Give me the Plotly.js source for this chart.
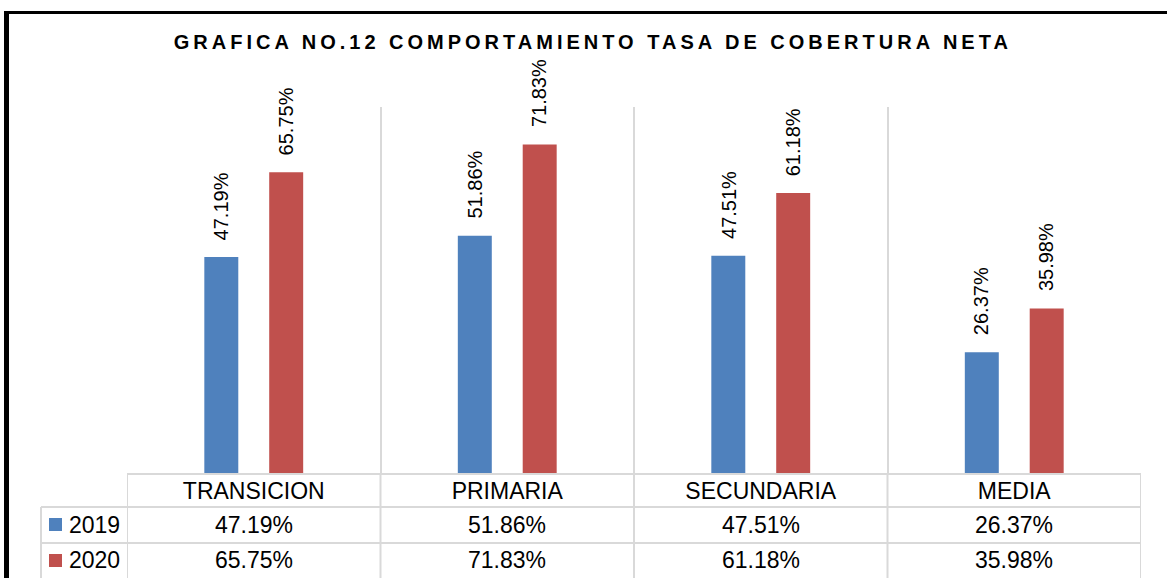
<!DOCTYPE html>
<html>
<head>
<meta charset="utf-8">
<script src="https://cdn.plot.ly/plotly-3.0.1.min.js"></script>
<style>
  body { margin: 0; background: #fff; }
  #chart { width: 1167px; height: 578px; }
  /* the black frame of the original figure (left and top edges only) */
  #frame { position: absolute; left: 4px; top: 11px; width: 1300px; height: 700px;
           border-left: 5px solid #000; border-top: 3px solid #000; pointer-events: none; }
  .gtitle { letter-spacing: 4px; }
</style>
</head>
<body>
<div id="chart"></div>
<div id="frame"></div>
<script>
// chart data
const categories = ['TRANSICION', 'PRIMARIA', 'SECUNDARIA', 'MEDIA'];
const years = ['2019', '2020'];
const values2019 = [47.19, 51.86, 47.51, 26.37];
const values2020 = [65.75, 71.83, 61.18, 35.98];
const seriesColors = ['#4F81BD', '#C0504D'];

const series = [values2019, values2020];
const barWidth = 0.134;
const barOffsets = [-0.195, 0.061];
const gridColor = '#D9D9D9';
const font = 'Arial, "Liberation Sans", sans-serif';

const pct = v => v.toFixed(2) + '%';

var traces = series.map(function(vals, i) {
    return {
        type: 'bar',
        name: years[i],
        x: categories,
        y: vals,
        width: barWidth,
        offset: barOffsets[i],
        marker: { color: seriesColors[i] },
        hoverinfo: 'x+y'
    };
});

var annotations = [];
var shapes = [];

// rotated data labels above the bars
series.forEach(function(vals, i) {
    vals.forEach(function(v, j) {
        annotations.push({
            x: j + barOffsets[i] + barWidth / 2, xref: 'x',
            y: v, yref: 'y',
            text: pct(v), showarrow: false, textangle: -90,
            xanchor: 'center', yanchor: 'bottom', yshift: 15,
            font: { family: font, size: 20, color: '#000' }
        });
    });
});

// data table below the plot
const rowY = [-0.1421, -0.2377];
const rowLines = [-0.0929, -0.1913];
const tableBottom = -0.32;
const leftEdge = -0.0848;
const keyBoxes = [[-0.1230, -0.1585], [-0.2213, -0.2568]];

series.forEach(function(vals, i) {
    vals.forEach(function(v, j) {
        annotations.push({
            x: j, xref: 'x', y: rowY[i], yref: 'paper',
            text: pct(v), showarrow: false,
            xanchor: 'center', yanchor: 'middle',
            font: { family: font, size: 23, color: '#000' }
        });
    });
    // legend key + year label in the first column
    shapes.push({ type: 'rect', xref: 'paper', yref: 'paper', x0: -0.0769, x1: -0.0641,
                  y0: keyBoxes[i][0], y1: keyBoxes[i][1],
                  fillcolor: seriesColors[i], line: { width: 0 } });
    annotations.push({
        x: -0.0592, xref: 'paper', y: rowY[i], yref: 'paper',
        text: years[i], showarrow: false, xanchor: 'left', yanchor: 'middle',
        font: { family: font, size: 23, color: '#000' }
    });
});

rowLines.forEach(function(y) {
    shapes.push({ type: 'line', xref: 'paper', yref: 'paper', x0: leftEdge, x1: 1, y0: y, y1: y,
                  line: { color: gridColor, width: 2 } });
});
for (let k = 0; k <= categories.length; k++) {
    shapes.push({ type: 'line', xref: 'x', yref: 'paper', x0: k - 0.5, x1: k - 0.5,
                  y0: 0, y1: tableBottom, line: { color: gridColor, width: 2 } });
}
shapes.push({ type: 'line', xref: 'paper', yref: 'paper', x0: leftEdge, x1: leftEdge,
              y0: rowLines[0], y1: tableBottom, line: { color: gridColor, width: 2 } });

var layout = {
    width: 1167,
    height: 578,
    margin: { l: 127, r: 26, t: 107, b: 105 },
    paper_bgcolor: '#fff',
    plot_bgcolor: '#fff',
    showlegend: false,
    title: {
        text: 'GRAFICA NO.12 COMPORTAMIENTO TASA DE COBERTURA NETA',
        x: 0.508, xanchor: 'center', y: 1 - 42 / 578, yanchor: 'middle',
        font: { family: font, size: 20, color: '#000', weight: 'bold' }
    },
    xaxis: {
        type: 'category',
        range: [-0.5, 3.5],
        tickson: 'boundaries',
        ticks: '',
        ticklabelstandoff: -4,
        showgrid: true,
        gridcolor: gridColor,
        gridwidth: 2,
        showline: true,
        linecolor: gridColor,
        linewidth: 2,
        tickfont: { family: font, size: 23, color: '#000' },
        fixedrange: true
    },
    yaxis: {
        range: [0, 80],
        showgrid: false,
        zeroline: false,
        showticklabels: false,
        fixedrange: true
    },
    annotations: annotations,
    shapes: shapes
};

Plotly.newPlot('chart', traces, layout, { displayModeBar: false, staticPlot: true });
</script>
</body>
</html>
